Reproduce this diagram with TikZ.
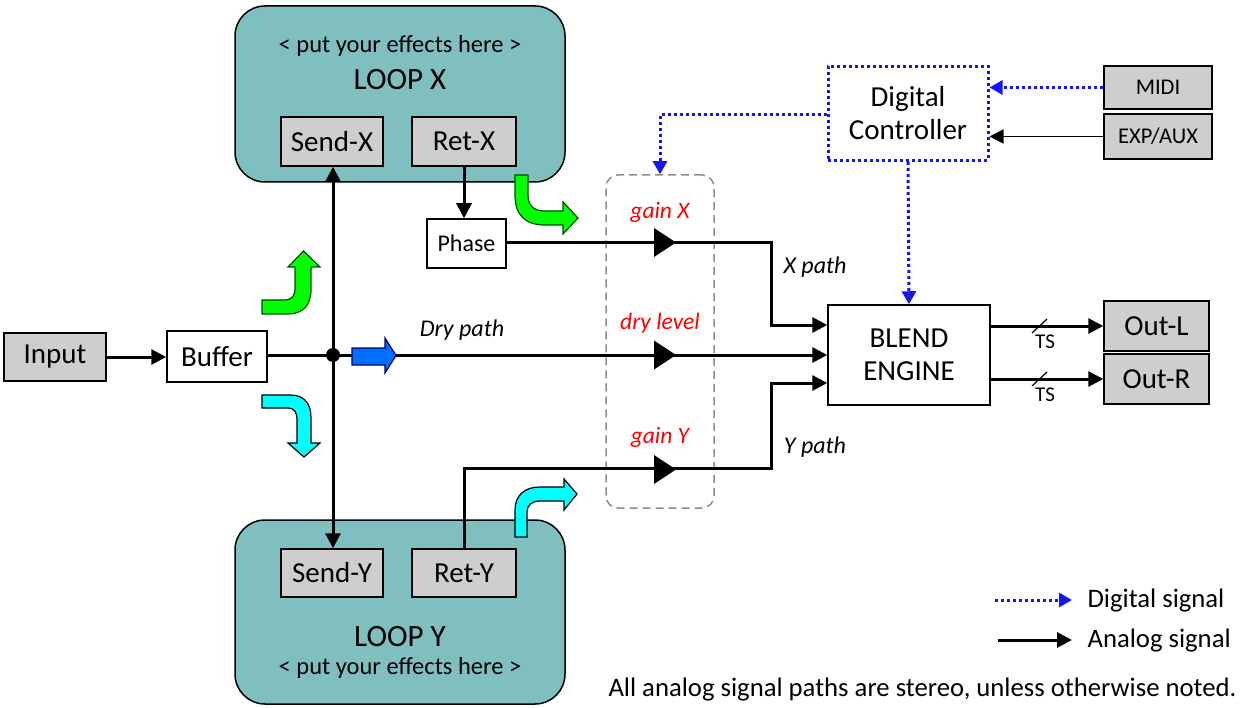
\documentclass[tikz,border=0pt]{standalone}
\usepackage{fontspec}
\setmainfont{Carlito}
\usetikzlibrary{arrows.meta}
\definecolor{teal1}{RGB}{128,191,191}
\definecolor{gbox}{RGB}{206,206,206}
\definecolor{dblue}{RGB}{20,20,245}
\definecolor{barrow}{RGB}{0,110,255}
\definecolor{lgreen}{RGB}{0,255,0}
\definecolor{lcyan}{RGB}{0,255,255}
\newcommand{\fsz}[1]{\fontsize{#1}{#1}\selectfont}
\tikzset{
  loopbox/.style={draw=black,line width=1.5pt,fill=teal1,rounded corners=30pt,minimum width=330pt,inner sep=0pt},
  graybox/.style={draw=black,line width=1.5pt,fill=gbox,inner sep=0pt,font=\fsz{29}},
  whitebox/.style={draw=black,line width=1.5pt,fill=white,inner sep=0pt,font=\fsz{29}},
  sig/.style={line width=3pt,-{Triangle[length=15pt,width=15pt]}},
  sigline/.style={line width=3pt},
  dig/.style={dblue,line width=3pt,dash pattern=on 3pt off 3pt,-{Triangle[length=13pt,width=14pt]}},
  lbl/.style={font=\fsz{23.5}\itshape,text=red},
  plbl/.style={font=\fsz{24}\itshape},
  garrow/.style={draw=black!70!green,line width=1.2pt,fill=lgreen},
  carrow/.style={draw=black,line width=1.2pt,fill=lcyan},
}
\begin{document}
\begin{tikzpicture}[x=1pt,y=-1pt]
\useasboundingbox (0,0) rectangle (1241,708);
% loop boxes
\node[loopbox,minimum height=176pt] (loopx) at (400,94) {};
\node[font=\fsz{24.5}] (effx) at (400,46) {< put your effects here >};
\node[font=\fsz{31}] (lx) at (400,80) {LOOP X};
\node[graybox,minimum width=102pt,minimum height=49pt] (sendx) at (332,141.5) {Send-X};
\node[graybox,minimum width=104pt,minimum height=49pt] (retx) at (464,141.5) {Ret-X};

\node[loopbox,minimum height=184pt] (loopy) at (400,612) {};
\node[font=\fsz{31}] (ly) at (400,637) {LOOP Y};
\node[font=\fsz{24.5}] (effy) at (400,668) {< put your effects here >};
\node[graybox,minimum width=102pt,minimum height=48pt] (sendy) at (332,573) {Send-Y};
\node[graybox,minimum width=104pt,minimum height=48pt] (rety) at (464,573) {Ret-Y};

\node[whitebox,minimum width=79pt,minimum height=49pt,font=\fsz{24}] (phase) at (466.5,243.5) {Phase};
\node[graybox,minimum width=102pt,minimum height=48pt] (input) at (55,357) {Input};
\node[whitebox,minimum width=100pt,minimum height=51pt] (buffer) at (217,356.5) {Buffer};
\node[whitebox,minimum width=162pt,minimum height=100pt,align=center] (blend) at (909,355) {BLEND\\[4pt]ENGINE};
\node[draw=dblue,line width=3pt,dash pattern=on 3pt off 3pt,minimum width=160pt,minimum height=94pt,align=center,font=\fsz{29}] (dc) at (908,113.5) {Digital\\[4pt]Controller};
\node[graybox,minimum width=108pt,minimum height=43pt,font=\fsz{22.5}] (midi) at (1158,87.5) {MIDI};
\node[graybox,minimum width=108pt,minimum height=45pt,font=\fsz{22.5}] (exp) at (1158,136.5) {EXP/AUX};
\node[graybox,minimum width=105pt,minimum height=50pt] (outl) at (1156.5,326) {Out-L};
\node[graybox,minimum width=105pt,minimum height=50pt] (outr) at (1156.5,379) {Out-R};
\node[draw=black!45,line width=1.5pt,dash pattern=on 8pt off 5pt,rounded corners=12pt,minimum width=108pt,minimum height=333pt] (gain) at (660,341.5) {};

% analog connections
\coordinate (j) at (333,355);
\draw[sig] (input.east |- 0,357) -- (buffer.west |- 0,357);
\draw[sigline] (buffer.east |- j) -- (j);
\draw[sig] (j) -- (blend.west |- j);
\draw[sig] (j) -- (j |- sendx.south);
\draw[sig] (j) -- (j |- sendy.north);
\fill (j) circle (7pt);
\draw[sig] (retx.south) -- (retx.south |- phase.north);
\coordinate (xc) at (771,243);
\coordinate (yc) at (771,468);
\draw[sig] (phase.east |- xc) -- (xc) -- (771,325) -- (blend.west |- 0,325);
\draw[sig] (rety.north) -- (rety.north |- yc) -- (yc) -- (771,383) -- (blend.west |- 0,383);
\draw[sig] (blend.east |- outl) -- (outl.west);
\draw[sig] (blend.east |- outr) -- (outr.west);
\draw[line width=1.5pt,-{Triangle[length=14pt,width=14pt]}] (exp.west) -- (dc.east |- exp);
% slashes and TS
\draw[line width=1.2pt] (1032,333) -- (1047,319);
\draw[line width=1.2pt] (1032,386) -- (1047,372);
\node[font=\fsz{21}] (ts1) at (1045,342) {TS};
\node[font=\fsz{21}] (ts2) at (1045,395) {TS};

% gain triangles
\fill (654,228) -- (676,242.5) -- (654,257) -- cycle;
\fill (654,340.5) -- (676,355) -- (654,369.5) -- cycle;
\fill (654,455) -- (676,469.5) -- (654,484) -- cycle;

% digital
\draw[dig] (midi.west) -- (dc.east |- midi);
\draw[dig] (dc.south) -- (blend.north);
\draw[dig] (dc.west |- 0,115) -- (660,115) -- (gain.north);

% labels
\node[lbl] (lgx) at (660,212) {gain X};
\node[lbl] (lgd) at (660,323) {dry level};
\node[lbl] (lgy) at (660,437) {gain Y};
\node[plbl] (lxp) at (815,267) {X path};
\node[plbl] (ldp) at (462,330) {Dry path};
\node[plbl] (lyp) at (815,447) {Y path};

% curved block arrows
\draw[garrow] (262,300) -- (284,300) .. controls (292,300) and (295,296) .. (295,288) -- (295,267) -- (288,267) -- (303.5,251) -- (320,267) -- (311,267) -- (311,290) .. controls (311,306) and (302,314) .. (288,314) -- (262,314) -- cycle;
\draw[garrow] (515,175) -- (528,175) -- (528,195) .. controls (528,205) and (533,211) .. (545,211) -- (563,211) -- (563,202) -- (578,218) -- (563,234) -- (563,225) -- (545,225) .. controls (525,225) and (515,215) .. (515,195) -- cycle;
\draw[carrow] (262,395) -- (290,395) .. controls (304,395) and (311,403) .. (311,418) -- (311,443) -- (320,443) -- (304,457) -- (288,443) -- (297,443) -- (297,420) .. controls (297,412) and (294,408) .. (288,408) -- (262,408) -- cycle;
\draw[carrow] (515,537) -- (515,510) .. controls (515,495) and (525,487) .. (540,487) -- (564,487) -- (564,479) -- (577,494) -- (564,510) -- (564,501) -- (540,501) .. controls (532,501) and (527,505) .. (527,512) -- (527,537) -- cycle;
\draw[draw=black!60!blue,line width=1.2pt,fill=barrow] (352,348) -- (385,348) -- (385,338) -- (396,355.5) -- (385,373) -- (385,365) -- (352,365) -- cycle;

% legend
\coordinate (d1) at (995,600);
\coordinate (d2) at (1072,600);
\coordinate (a1) at (998,640);
\coordinate (a2) at (1072,640);
\draw[dig] (d1) -- (d2);
\draw[sig] (a1) -- (a2);
\node[anchor=west,font=\fsz{26.7}] (ld) at (1084,601) {Digital signal};
\node[anchor=west,font=\fsz{26.7}] (la) at (1084,641) {Analog signal};
\node[anchor=east,font=\fsz{26.7}] (note) at (1240,690) {All analog signal paths are stereo, unless otherwise noted.};
\end{tikzpicture}
\end{document}
